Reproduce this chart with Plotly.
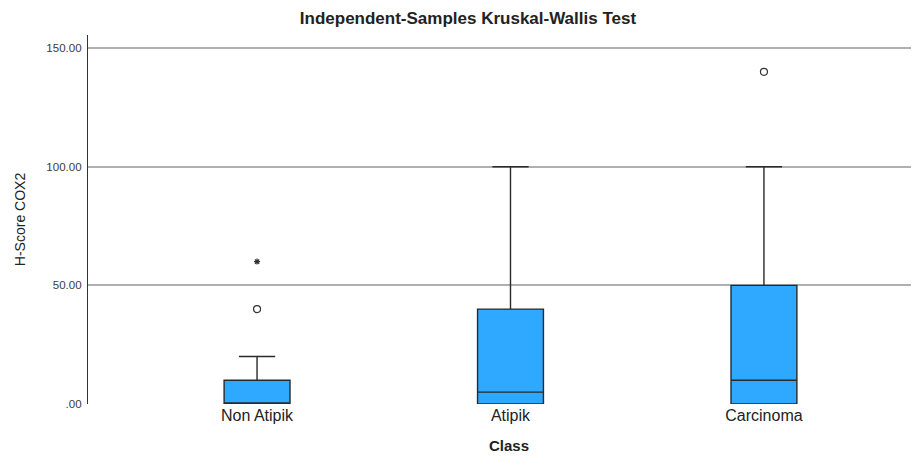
import plotly.graph_objects as go

categories = ["Non Atipik", "Atipik", "Carcinoma"]
lower_fence = [0, 0, 0]
q1 = [0, 0, 0]
median = [0, 5, 10]
q3 = [10, 40, 50]
upper_fence = [20, 100, 100]

# outliers: circles = mild, star = extreme
circle_cats = ["Non Atipik", "Carcinoma"]
circle_vals = [40, 140]
star_cats = ["Non Atipik"]
star_vals = [60]

y_ticks = [0, 50, 100, 150]
y_ticktext = [".00", "50.00", "100.00", "150.00"]

FONT = "Liberation Sans, Arial, sans-serif"

fig = go.Figure()
fig.add_trace(go.Box(
    x=categories, q1=q1, median=median, q3=q3,
    lowerfence=lower_fence, upperfence=upper_fence,
    fillcolor="#2EA9FF", line=dict(color="#2a2a2a", width=1.4),
    width=0.26, whiskerwidth=0.55, boxpoints=False, showlegend=False,
))
fig.add_trace(go.Scatter(
    x=circle_cats, y=circle_vals, mode="markers", showlegend=False,
    marker=dict(symbol="circle-open", size=7, color="#333", line=dict(width=1.2)),
))
fig.add_trace(go.Scatter(
    x=star_cats, y=star_vals, mode="markers", showlegend=False,
    marker=dict(symbol="asterisk-open", size=5, color="#333", line=dict(width=1.2)),
))

# page body adds an 8px offset, margins compensate for it
fig.update_layout(
    width=919, height=456, template="plotly_white",
    paper_bgcolor="white", plot_bgcolor="white",
    margin=dict(l=80, r=12, t=27, b=60, autoexpand=False),
    font=dict(family=FONT, color="#222"),
    title=dict(text="<b>Independent-Samples Kruskal-Wallis Test</b>",
               x=0.5005, xanchor="center", y=0.978, yanchor="middle",
               font=dict(size=17, color="#222")),
    annotations=[dict(text="<b>Class</b>", xref="paper", yref="paper",
                      x=0.509, y=-0.112, xanchor="center", yanchor="middle",
                      showarrow=False, font=dict(size=15, color="#222"))],
)
fig.update_xaxes(
    type="category", range=[-0.667, 2.596], showgrid=False, zeroline=False,
    showline=False, ticks="", tickfont=dict(size=16, color="#222"),
    automargin=False,
)
fig.update_yaxes(
    range=[0, 155.5], tickvals=y_ticks, ticktext=y_ticktext,
    tickfont=dict(size=11.5, color="#3a3a3a"), showgrid=True, gridcolor="#b0b0b0",
    gridwidth=1.8, zeroline=False, showline=True, linecolor="#333", linewidth=1.3,
    ticks="", ticklabelstandoff=3, automargin=False,
    title=dict(text="H-Score COX2", font=dict(size=14, color="#222"), standoff=17),
)
fig.write_html("out.html")
